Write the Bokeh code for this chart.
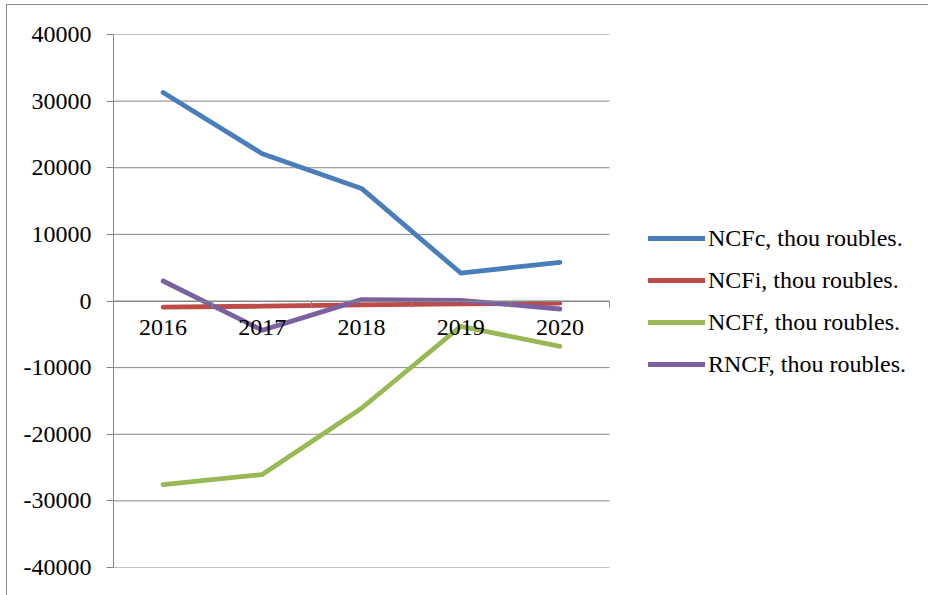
from bokeh.plotting import figure
from bokeh.models import Range1d, FixedTicker, Legend, LegendItem
from bokeh.embed import file_html
from bokeh.resources import INLINE

# ---- data ----
years = ["2016", "2017", "2018", "2019", "2020"]
ncfc = [31300, 22100, 16900, 4200, 5800]
ncfi = [-930, -780, -570, -420, -330]
ncff = [-27550, -26050, -16100, -3800, -6800]
rncf = [3000, -4400, 200, 100, -1200]
series_names = ["NCFc, thou roubles.", "NCFi, thou roubles.",
                "NCFf, thou roubles.", "RNCF, thou roubles."]
y_ticks = [-40000, -30000, -20000, -10000, 0, 10000, 20000, 30000, 40000]
y_tick_labels = ["-40000", "-30000", "-20000", "-10000", "0",
                 "10000", "20000", "30000", "40000"]

colors = ["#4A7EBB", "#BE4B48", "#98B954", "#7D60A0"]
FONT = "Liberation Serif"
FSIZE = "24px"
GRID = "#868686"

# layout (pixels)
W, H = 921, 590
LEFT, TOP, BOTTOM = 106, 29, 28
PLOT_W = 496                      # width of the category area
frame_w = W - LEFT

xpos = list(range(len(years)))
boundaries = [i - 0.5 for i in range(len(years) + 1)]
x_start = -0.5
x_end = x_start + len(years) * frame_w / PLOT_W

p = figure(width=W, height=H, output_backend="svg", toolbar_location=None,
           x_range=Range1d(x_start, x_end),
           y_range=Range1d(y_ticks[0], y_ticks[-1]),
           min_border_left=LEFT, min_border_right=0,
           min_border_top=TOP, min_border_bottom=BOTTOM)
p.styles = {"margin": "5px 0px 0px 7px", "outline": "1.5px solid #8c8c8c"}
p.outline_line_color = None
p.background_fill_color = "white"
p.border_fill_color = "white"
p.xgrid.grid_line_color = None
p.ygrid.grid_line_color = None

# horizontal gridlines limited to the category area
p.segment(x0=[boundaries[0]] * len(y_ticks), x1=[boundaries[-1]] * len(y_ticks),
          y0=y_ticks, y1=y_ticks, line_color=GRID, line_width=1)

# y axis
p.yaxis.ticker = FixedTicker(ticks=y_ticks)
p.yaxis.major_label_overrides = {t: s for t, s in zip(y_ticks, y_tick_labels)}
p.yaxis.major_label_text_font = FONT
p.yaxis.major_label_text_font_size = FSIZE
p.yaxis.major_label_text_color = "black"
p.yaxis.axis_line_color = GRID
p.yaxis.major_tick_line_color = GRID
p.yaxis.major_tick_out = 7
p.yaxis.major_tick_in = 0
p.yaxis.minor_tick_line_color = None
p.yaxis.major_label_standoff = 15

# x axis crossing at zero
p.xaxis.fixed_location = 0
p.xaxis.bounds = (boundaries[0], boundaries[-1])
p.xaxis.ticker = FixedTicker(ticks=xpos, minor_ticks=boundaries)
p.xaxis.major_label_overrides = {i: y for i, y in zip(xpos, years)}
p.xaxis.major_label_text_font = FONT
p.xaxis.major_label_text_font_size = FSIZE
p.xaxis.major_label_text_color = "black"
p.xaxis.axis_line_color = GRID
p.xaxis.major_tick_line_color = None
p.xaxis.major_tick_out = 0
p.xaxis.major_tick_in = 0
p.xaxis.minor_tick_line_color = GRID
p.xaxis.minor_tick_out = 6
p.xaxis.minor_tick_in = 0
p.xaxis.major_label_standoff = 13

items = []
for name, vals, c in zip(series_names, [ncfc, ncfi, ncff, rncf], colors):
    r = p.line(xpos, vals, line_color=c, line_width=4.8,
               line_cap="round", line_join="round")
    items.append(LegendItem(label=name, renderers=[r]))

legend = Legend(items=items, location=(535, 189))
legend.label_text_font = FONT
legend.label_text_font_size = FSIZE
legend.label_text_color = "black"
legend.glyph_width = 57
legend.glyph_height = 28
legend.label_height = 28
legend.label_standoff = 3
legend.spacing = 14
legend.padding = 0
legend.margin = 0
legend.border_line_color = None
legend.background_fill_alpha = 0
p.add_layout(legend, "center")

open("out.html", "w").write(file_html(p, INLINE))
